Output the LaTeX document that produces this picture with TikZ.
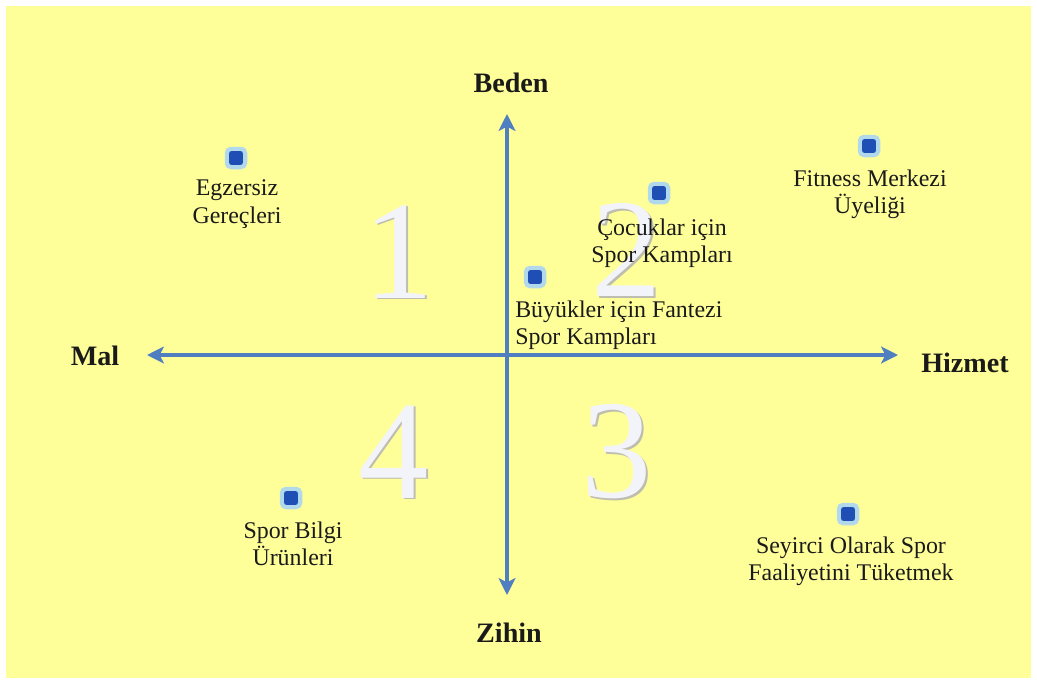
\documentclass[tikz,border=0pt]{standalone}
\usepackage{xcolor}
\usepackage{fontspec}
\setmainfont{Liberation Serif}
\usepackage{tikz}
\usetikzlibrary{arrows.meta, positioning}
\definecolor{paper}{HTML}{FFFF9A}
\definecolor{axisblue}{HTML}{4F7FC0}
\definecolor{dotblue}{HTML}{1F4FB4}
\definecolor{glow}{HTML}{B2D8EC}
\definecolor{numfill}{HTML}{F3F3FA}
\definecolor{numedge}{HTML}{BDBDB0}
\definecolor{ink}{HTML}{1A1A1A}
\tikzstyle{ax}=[{Stealth[length=12pt,width=12pt,inset=3pt]}-{Stealth[length=12pt,width=12pt,inset=3pt]},line width=3pt,color=axisblue]
\tikzstyle{axlabel}=[font=\fontsize{20}{22}\selectfont\bfseries,text=ink,inner sep=0pt]
\tikzstyle{dot}=[draw=glow,fill=dotblue,line width=3pt,minimum size=13pt,inner sep=0pt,rounded corners=3pt]
\tikzstyle{item}=[font=\fontsize{17}{19.5}\selectfont,text=ink,inner sep=0pt,align=center]

\begin{document}
\begin{tikzpicture}[x=0.025cm,y=-0.025cm]
  \fill[white] (0,0) rectangle (1037,684);
  \fill[paper] (6,6) rectangle (1031,678);
  % quadrant numbers
  \foreach \n/\x/\y in {1/399/252, 2/627/250, 3/617/452, 4/394/452} {
    \node[text=numedge,font=\fontsize{100}{100}\selectfont] at (\x+1.5,\y+1.5) {\n};
    \node[text=numfill,font=\fontsize{100}{100}\selectfont] at (\x,\y) {\n};
  }
  % axes
  \coordinate (top) at (507,114);
  \coordinate (bottom) at (507,595);
  \coordinate (left) at (147,355);
  \coordinate (right) at (898,355);
  \draw[ax] (left) -- (right);
  \draw[ax] (bottom) -- (top);
  \node[axlabel] (beden) at (511,83) {Beden};
  \node[axlabel] (zihin) at (509,633) {Zihin};
  \node[axlabel] (mal) at (95,356) {Mal};
  \node[axlabel] (hizmet) at (965,363) {Hizmet};
  % products
  \node[dot] (egz) at (236,158) {};
  \node[item] at (237,204) {Egzersiz\\Gereçleri};
  \node[dot] (cocuk) at (659,193) {};
  \node[item] at (662,243) {Çocuklar için\\Spor Kampları};
  \node[dot] (buyuk) at (535,277) {};
  \node[item,anchor=west,align=left] at (515,325) {Büyükler için Fantezi\\Spor Kampları};
  \node[dot] (fitness) at (869,146) {};
  \node[item] at (870,194) {Fitness Merkezi\\Üyeliği};
  \node[dot] (bilgi) at (291,498) {};
  \node[item] at (293,544) {Spor Bilgi\\Ürünleri};
  \node[dot] (seyirci) at (848,514) {};
  \node[item] at (851,561) {Seyirci Olarak Spor\\Faaliyetini Tüketmek};
\end{tikzpicture}
\end{document}
